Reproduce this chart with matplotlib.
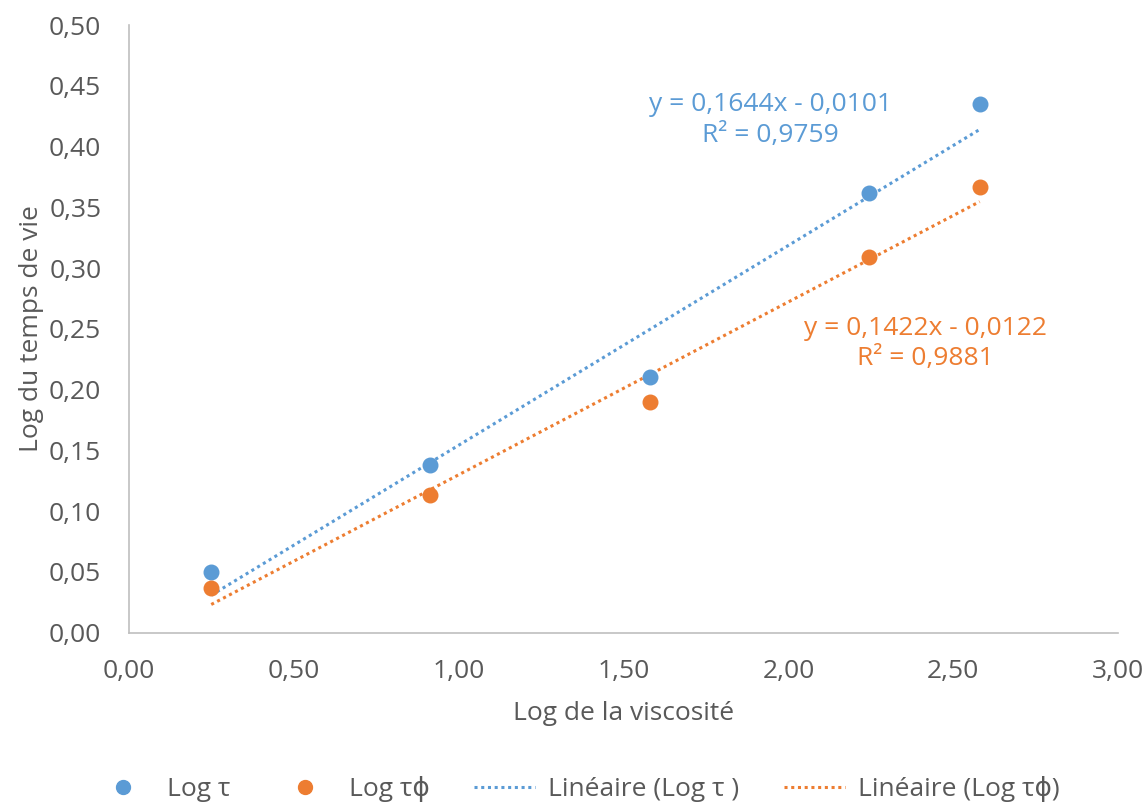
import numpy as np
import matplotlib
matplotlib.use("Agg")
import matplotlib.pyplot as plt
from matplotlib.lines import Line2D

plt.rcParams['font.family'] = ['Open Sans', 'DejaVu Sans']

# data
log_visc = [0.249, 0.912, 1.58, 2.243, 2.58]
log_tau = [0.050, 0.1376, 0.210, 0.3616, 0.435]
log_tauphi = [0.037, 0.1137, 0.1895, 0.309, 0.3666]

# trendline coefficients shown on the chart
fit_tau = (0.1644, -0.0101)
fit_tauphi = (0.1422, -0.0122)

BLUE = '#5B9BD5'
ORANGE = '#ED7D31'
GRAY = '#595959'
FS = 19

fig = plt.figure(figsize=(11.48, 8.07), dpi=100)
ax = fig.add_axes([0.1125, 0.216, 0.8615, 0.753])

dots = (0, (1, 1.2))
xs = np.array([log_visc[0], log_visc[-1]])
ax.plot(xs, fit_tau[0] * xs + fit_tau[1], color=BLUE, lw=2.2, ls=dots)
ax.plot(xs, fit_tauphi[0] * xs + fit_tauphi[1], color=ORANGE, lw=2.2, ls=dots)
ax.scatter(log_visc, log_tau, s=110, color=BLUE, zorder=3)
ax.scatter(log_visc, log_tauphi, s=110, color=ORANGE, zorder=3)

xt = np.arange(0, 3.01, 0.5)
yt = np.arange(0, 0.501, 0.05)
ax.set_xlim(0, 3)
ax.set_ylim(0, 0.5)
ax.set_xticks(xt)
ax.set_yticks(yt)
ax.set_xticklabels([f"{v:.2f}".replace('.', ',') for v in xt])
ax.set_yticklabels([f"{v:.2f}".replace('.', ',') for v in yt])
ax.tick_params(axis='both', length=0, labelsize=FS, colors=GRAY)
ax.tick_params(axis='y', pad=20)
ax.tick_params(axis='x', pad=19)
for s in ['top', 'right']:
    ax.spines[s].set_visible(False)
for s in ['left', 'bottom']:
    ax.spines[s].set_color('#BFBFBF')
    ax.spines[s].set_linewidth(1.2)

ax.set_xlabel('Log de la viscosité', fontsize=FS, color=GRAY, labelpad=12)
ax.set_ylabel('Log du temps de vie', fontsize=FS, color=GRAY, labelpad=4)

ax.text(1.945, 0.4217, 'y = 0,1644x - 0,0101\nR² = 0,9759', ha='center', va='center',
        fontsize=FS, color=BLUE, linespacing=1.3)
ax.text(2.416, 0.238, 'y = 0,1422x - 0,0122\nR² = 0,9881', ha='center', va='center',
        fontsize=FS, color=ORANGE, linespacing=1.3)

handles = [
    Line2D([], [], marker='o', ls='none', color=BLUE, markersize=10),
    Line2D([], [], marker='o', ls='none', color=ORANGE, markersize=10),
    Line2D([], [], color=BLUE, lw=2.2, ls=dots),
    Line2D([], [], color=ORANGE, lw=2.2, ls=dots),
]
labels = ['Log τ', 'Log τϕ', 'Linéaire (Log τ )', 'Linéaire (Log τϕ)']
fig.legend(handles, labels, loc='center', bbox_to_anchor=(0.502, 0.022), ncol=4,
           frameon=False, fontsize=FS, labelcolor=GRAY, columnspacing=1.7,
           handlelength=2.3, handletextpad=0.5, borderpad=0)

fig.savefig('out.png', dpi=100)
